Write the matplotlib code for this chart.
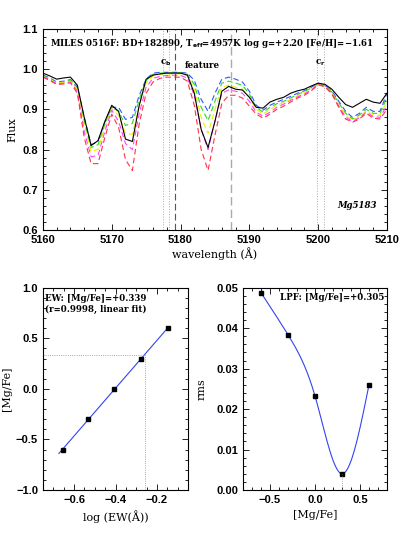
import numpy as np
import matplotlib
matplotlib.use("Agg")
import matplotlib.pyplot as plt
from matplotlib.ticker import MultipleLocator

plt.rcParams['font.family'] = 'DejaVu Serif'
plt.rcParams['font.weight'] = 'bold'
plt.rcParams['mathtext.default'] = 'bf'

# ---- spectrum panel data (1 A sampling, 5160..5210) ----
wave = np.arange(5160, 5211)
flux_star = [0.990, 0.983, 0.975, 0.978, 0.980, 0.960, 0.880, 0.810, 0.822, 0.870,
             0.910, 0.895, 0.826, 0.820, 0.910, 0.975, 0.985, 0.988, 0.990, 0.990,
             0.990, 0.985, 0.940, 0.850, 0.805, 0.870, 0.945, 0.957, 0.950, 0.948,
             0.930, 0.905, 0.903, 0.918, 0.925, 0.930, 0.940, 0.946, 0.950, 0.958,
             0.965, 0.962, 0.950, 0.930, 0.912, 0.905, 0.915, 0.925, 0.918, 0.915,
             0.940]
flux_blue = [0.985, 0.978, 0.968, 0.970, 0.974, 0.955, 0.880, 0.812, 0.820, 0.868,
             0.905, 0.905, 0.875, 0.880, 0.935, 0.975, 0.990, 0.992, 0.992, 0.992,
             0.992, 0.990, 0.972, 0.925, 0.895, 0.940, 0.975, 0.980, 0.975, 0.968,
             0.945, 0.910, 0.898, 0.910, 0.918, 0.925, 0.932, 0.940, 0.946, 0.955,
             0.965, 0.960, 0.945, 0.920, 0.895, 0.880, 0.890, 0.905, 0.895, 0.895,
             0.940]
flux_green = [0.983, 0.976, 0.966, 0.968, 0.972, 0.952, 0.870, 0.805, 0.812, 0.862,
              0.905, 0.895, 0.860, 0.865, 0.925, 0.972, 0.987, 0.990, 0.991, 0.991,
              0.991, 0.987, 0.962, 0.905, 0.872, 0.920, 0.965, 0.970, 0.965, 0.960,
              0.938, 0.905, 0.893, 0.905, 0.914, 0.920, 0.928, 0.937, 0.944, 0.953,
              0.964, 0.959, 0.943, 0.916, 0.890, 0.876, 0.886, 0.900, 0.890, 0.890,
              0.930]
flux_yellow = [0.982, 0.975, 0.965, 0.967, 0.970, 0.950, 0.860, 0.795, 0.800, 0.855,
               0.902, 0.885, 0.840, 0.838, 0.910, 0.965, 0.983, 0.987, 0.988, 0.988,
               0.988, 0.984, 0.950, 0.880, 0.840, 0.900, 0.955, 0.960, 0.955, 0.950,
               0.930, 0.900, 0.888, 0.900, 0.910, 0.917, 0.925, 0.934, 0.941, 0.950,
               0.963, 0.958, 0.941, 0.912, 0.885, 0.873, 0.882, 0.896, 0.886, 0.885,
               0.920]
flux_magenta = [0.981, 0.973, 0.963, 0.965, 0.968, 0.945, 0.845, 0.782, 0.785, 0.845,
                0.898, 0.870, 0.815, 0.800, 0.890, 0.955, 0.977, 0.982, 0.984, 0.985,
                0.984, 0.978, 0.935, 0.850, 0.800, 0.870, 0.940, 0.948, 0.945, 0.940,
                0.920, 0.893, 0.883, 0.893, 0.905, 0.913, 0.922, 0.931, 0.938, 0.948,
                0.962, 0.957, 0.940, 0.908, 0.880, 0.870, 0.879, 0.893, 0.882, 0.880,
                0.910]
flux_red = [0.980, 0.972, 0.962, 0.963, 0.966, 0.940, 0.830, 0.765, 0.765, 0.830,
            0.888, 0.855, 0.775, 0.748, 0.865, 0.940, 0.968, 0.977, 0.980, 0.980,
            0.980, 0.970, 0.910, 0.800, 0.748, 0.835, 0.915, 0.935, 0.935, 0.928,
            0.908, 0.888, 0.878, 0.888, 0.900, 0.908, 0.918, 0.928, 0.935, 0.946,
            0.961, 0.956, 0.938, 0.905, 0.876, 0.868, 0.876, 0.890, 0.878, 0.876,
            0.900]

cont_blue = [5177.4, 5178.3]
cont_red = [5199.9, 5200.8]
feature = [5179.2, 5187.3]

# ---- EW calibration panel ----
log_ew = [-0.652, -0.534, -0.406, -0.275, -0.148]
mgfe_grid = [-0.6, -0.3, 0.0, 0.3, 0.6]
mgfe_ew = 0.339

# ---- LPF panel ----
rms = [0.0488, 0.0384, 0.0233, 0.0040, 0.0259]
mgfe_lpf = 0.305

fig = plt.figure(figsize=(4.09, 5.45), dpi=100)
ax1 = fig.add_axes([0.105, 0.578, 0.841, 0.369])
ax2 = fig.add_axes([0.105, 0.101, 0.355, 0.371])
ax3 = fig.add_axes([0.594, 0.101, 0.352, 0.371])

fs = 8     # tick labels
fl = 8     # axis labels
ft = 6.2   # annotations


def style(ax, xmaj, xmin, ymaj, ymin):
    ax.xaxis.set_major_locator(MultipleLocator(xmaj))
    ax.xaxis.set_minor_locator(MultipleLocator(xmin))
    ax.yaxis.set_major_locator(MultipleLocator(ymaj))
    ax.yaxis.set_minor_locator(MultipleLocator(ymin))
    ax.tick_params(which='both', direction='in', top=True, right=True, labelsize=fs, width=0.6)
    ax.tick_params(which='major', length=4)
    ax.tick_params(which='minor', length=2)
    for lab in ax.get_xticklabels() + ax.get_yticklabels():
        lab.set_family('Liberation Sans')
        lab.set_weight('bold')
    for s in ax.spines.values():
        s.set_linewidth(0.8)


# spectrum
ax1.plot(wave, flux_star, color='black', lw=0.8, zorder=5)
for f, c in [(flux_blue, '#3355ff'), (flux_green, '#22dd22'), (flux_yellow, '#eeee00'),
             (flux_magenta, '#ff44ff'), (flux_red, '#ff3344')]:
    ax1.plot(wave, f, color=c, lw=0.8, ls=(0, (5, 3)))
for w in cont_blue + cont_red:
    ax1.axvline(w, color='#aaaaaa', lw=0.7, ls=':')
ax1.axvline(feature[0], color='#555555', lw=0.8, ls=(0, (6, 3)))
ax1.axvline(feature[1], color='#aaaaaa', lw=1.0, ls=(0, (6, 3)))
ax1.set_xlim(5160, 5210)
ax1.set_ylim(0.6, 1.1)
style(ax1, 10, 2, 0.1, 0.02)
ax1.set_xlabel('wavelength (Å)', fontsize=fl, labelpad=2)
ax1.set_ylabel('Flux', fontsize=fl)
ax1.yaxis.set_label_coords(-0.075, 0.5)
ax1.text(5161, 1.062, 'MILES 0516F: BD+182890, T$_{\\rm eff}$=4957K log g=+2.20 [Fe/H]=\u22121.61',
         fontsize=ft, va='center')
ax1.text(np.mean(cont_blue), 1.015, 'c$_{\\rm b}$', fontsize=ft, ha='center', va='center')
ax1.text(5183.2, 1.01, 'feature', fontsize=ft, ha='center', va='center')
ax1.text(np.mean(cont_red), 1.015, 'c$_{\\rm r}$', fontsize=ft, ha='center', va='center')
ax1.text(5208.5, 0.66, 'Mg5183', fontsize=ft, style='italic', ha='right', va='center')

# EW calibration
coef = np.polyfit(log_ew, mgfe_grid, 1)
xfit = np.array([log_ew[0] - 0.021, log_ew[-1]])
ax2.plot(xfit, np.polyval(coef, xfit), color='#3344ee', lw=0.8)
ax2.plot(log_ew, mgfe_grid, 's', color='black', ms=3)
x_ew = (mgfe_ew - coef[1]) / coef[0]
ax2.plot([-0.75, x_ew], [mgfe_ew, mgfe_ew], color='#888888', lw=0.6, ls=':')
ax2.plot([x_ew, x_ew], [-1.0, mgfe_ew], color='#888888', lw=0.6, ls=':')
ax2.set_xlim(-0.75, -0.05)
ax2.set_ylim(-1.0, 1.0)
style(ax2, 0.2, 0.05, 0.5, 0.1)
ax2.set_xlabel('log (EW(Å))', fontsize=fl, labelpad=4)
ax2.set_ylabel('[Mg/Fe]', fontsize=fl)
ax2.yaxis.set_label_coords(-0.215, 0.5)
ax2.text(-0.74, 0.94, 'EW: [Mg/Fe]=+0.339\n(r=0.9998, linear fit)', fontsize=ft,
         va='top', linespacing=1.3)

# LPF panel: natural cubic spline through the rms points
xg = np.array(mgfe_grid)
yg = np.array(rms)
n = len(xg)
h = np.diff(xg)
A = np.zeros((n, n))
b = np.zeros(n)
A[0, 0] = A[-1, -1] = 1
for i in range(1, n - 1):
    A[i, i - 1] = h[i - 1]
    A[i, i] = 2 * (h[i - 1] + h[i])
    A[i, i + 1] = h[i]
    b[i] = 6 * ((yg[i + 1] - yg[i]) / h[i] - (yg[i] - yg[i - 1]) / h[i - 1])
M = np.linalg.solve(A, b)
xs = np.linspace(xg[0], xg[-1], 300)
idx = np.clip(np.searchsorted(xg, xs) - 1, 0, n - 2)
t0 = xg[idx + 1] - xs
t1 = xs - xg[idx]
hh = h[idx]
ys = (M[idx] * t0 ** 3 + M[idx + 1] * t1 ** 3) / (6 * hh) + \
     (yg[idx] / hh - M[idx] * hh / 6) * t0 + (yg[idx + 1] / hh - M[idx + 1] * hh / 6) * t1
ax3.plot(xs, ys, color='#3344ee', lw=0.8)
ax3.plot(mgfe_grid, rms, 's', color='black', ms=3)
ax3.plot([mgfe_lpf, mgfe_lpf], [0, np.interp(mgfe_lpf, xs, ys)], color='#888888', lw=0.6, ls=':')
ax3.set_xlim(-0.8, 0.8)
ax3.set_ylim(0, 0.05)
style(ax3, 0.5, 0.1, 0.01, 0.002)
ax3.set_xlabel('[Mg/Fe]', fontsize=fl, labelpad=4)
ax3.set_ylabel('rms', fontsize=fl)
ax3.yaxis.set_label_coords(-0.25, 0.5)
ax3.text(0.77, 0.0475, 'LPF: [Mg/Fe]=+0.305', fontsize=ft, ha='right', va='center')

fig.savefig('out.png', dpi=100)
